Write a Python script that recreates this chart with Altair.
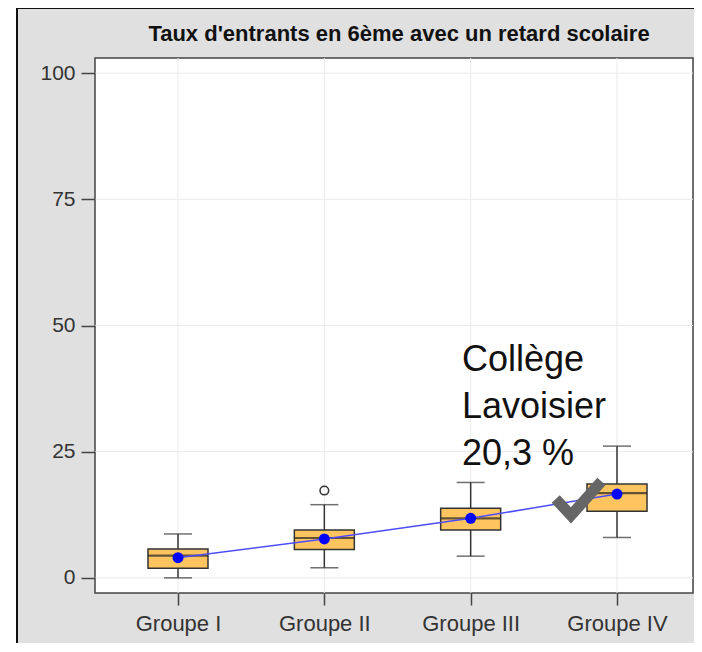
import altair as alt
import pandas as pd

# ---- data ----
groups = ["Groupe I", "Groupe II", "Groupe III", "Groupe IV"]
whisker_low = [0.0, 2.0, 4.3, 8.0]
q1 = [1.9, 5.6, 9.5, 13.2]
median = [4.4, 7.9, 11.8, 16.8]
q3 = [5.7, 9.5, 13.8, 18.6]
whisker_high = [8.7, 14.5, 18.9, 26.1]
means = [4.0, 7.7, 11.8, 16.6]
outlier_groups = ["Groupe II"]
outlier_values = [17.3]
y_ticks = [0, 25, 50, 75, 100]

title_text = "Taux d'entrants en 6ème avec un retard scolaire"
annotation_text = "Collège\nLavoisier\n20,3 %"

W, H = 598, 535
FONT = "Liberation Sans"

df = pd.DataFrame({
    "group": groups, "lo": whisker_low, "q1": q1, "med": median,
    "q3": q3, "hi": whisker_high, "mean": means,
})
df_out = pd.DataFrame({"group": outlier_groups, "value": outlier_values})
df_grid_y = pd.DataFrame({"v": y_ticks})
df_grid_x = pd.DataFrame({"group": groups})

x_scale = alt.Scale(type="point", domain=groups, range=[83, 522], padding=0)
y_scale = alt.Scale(domain=[-3, 103], nice=False, zero=False)

X = alt.X("group:N", scale=x_scale, sort=groups,
          axis=alt.Axis(title=None, labelAngle=0, grid=False, domain=False,
                        tickSize=12, tickWidth=1.5, tickColor="#444444",
                        labelFontSize=22, labelColor="#333333", labelFont=FONT,
                        labelPadding=8, zindex=1))
Y_axis = alt.Axis(title=None, values=y_ticks, grid=False, domain=False,
                  tickSize=14, tickWidth=1.5, tickColor="#444444",
                  labelFontSize=21, labelColor="#333333", labelFont=FONT,
                  labelPadding=6, zindex=1)

base = alt.Chart(df)

one = pd.DataFrame({"k": [0]})

# outer grey panel
panel = alt.Chart(one).mark_rect(
    fill="#e0e0e0", stroke="#111111", strokeWidth=2
).encode(x=alt.value(-78), x2=alt.value(W + 30), y=alt.value(-50), y2=alt.value(H + 90))

# plot area
plot_bg = alt.Chart(one).mark_rect(
    fill="white", stroke="#444444", strokeWidth=1.5
).encode(x=alt.value(0), x2=alt.value(W), y=alt.value(0), y2=alt.value(H))

grid_h = alt.Chart(df_grid_y).mark_rule(color="#ebebeb", strokeWidth=1).encode(
    y=alt.Y("v:Q", scale=y_scale, axis=Y_axis), x=alt.value(0), x2=alt.value(W))
grid_v = alt.Chart(df_grid_x).mark_rule(color="#ebebeb", strokeWidth=1).encode(
    x=X, y=alt.value(0), y2=alt.value(H))

whisk = base.mark_rule(color="#333333", strokeWidth=1.5).encode(
    x=X, y=alt.Y("lo:Q", scale=y_scale), y2="hi:Q")
caps_lo = base.mark_tick(color="#333333", size=28, thickness=1.5).encode(
    x=X, y=alt.Y("lo:Q", scale=y_scale))
caps_hi = base.mark_tick(color="#333333", size=28, thickness=1.5).encode(
    x=X, y=alt.Y("hi:Q", scale=y_scale))
box = base.mark_bar(size=60, fill="#fdc45f", stroke="#333333", strokeWidth=1.5).encode(
    x=X, y=alt.Y("q1:Q", scale=y_scale), y2="q3:Q")
med = base.mark_tick(color="#222222", size=60, thickness=2.2).encode(
    x=X, y=alt.Y("med:Q", scale=y_scale))
mean_line = base.mark_line(color="#4d4dff", strokeWidth=1.5).encode(
    x=X, y=alt.Y("mean:Q", scale=y_scale))
mean_pts = base.mark_circle(color="#0000ff", size=120, opacity=1).encode(
    x=X, y=alt.Y("mean:Q", scale=y_scale))
outl = alt.Chart(df_out).mark_point(shape="circle", filled=False, size=75, opacity=1,
                                    color="#333333", strokeWidth=1.5).encode(
    x=X, y=alt.Y("value:Q", scale=y_scale))

# check-mark symbol (decoration)
check = alt.Chart(one).mark_point(
    shape="M -0.95 0.0 L -0.3 0.7 L 1 -0.75", filled=False, opacity=1,
    color="#666666", strokeWidth=11, strokeJoin="miter", size=2200
).encode(x=alt.value(483), y=alt.value(441))

annot = alt.Chart(pd.DataFrame({"t": [annotation_text]})).mark_text(
    font=FONT, fontSize=36, color="#111111", align="left", baseline="alphabetic",
    lineBreak="\n", lineHeight=47
).encode(text="t:N", x=alt.value(367), y=alt.value(313))

title = alt.Chart(pd.DataFrame({"t": [title_text]})).mark_text(
    font=FONT, fontSize=22, fontWeight="bold", color="#111111",
    align="center", baseline="alphabetic"
).encode(text="t:N", x=alt.value(304), y=alt.value(-17))

chart = alt.layer(
    panel, plot_bg, grid_h, grid_v, whisk, caps_lo, caps_hi, box, med,
    mean_line, mean_pts, outl, check, annot, title
).properties(
    width=W, height=H,
    autosize=alt.AutoSizeParams(type="none"),
    padding={"left": 87, "top": 50, "right": 1, "bottom": 50},
).configure(background="white").configure_view(stroke=None)

chart.save("out.html", embed_options={"renderer": "svg", "actions": False})
